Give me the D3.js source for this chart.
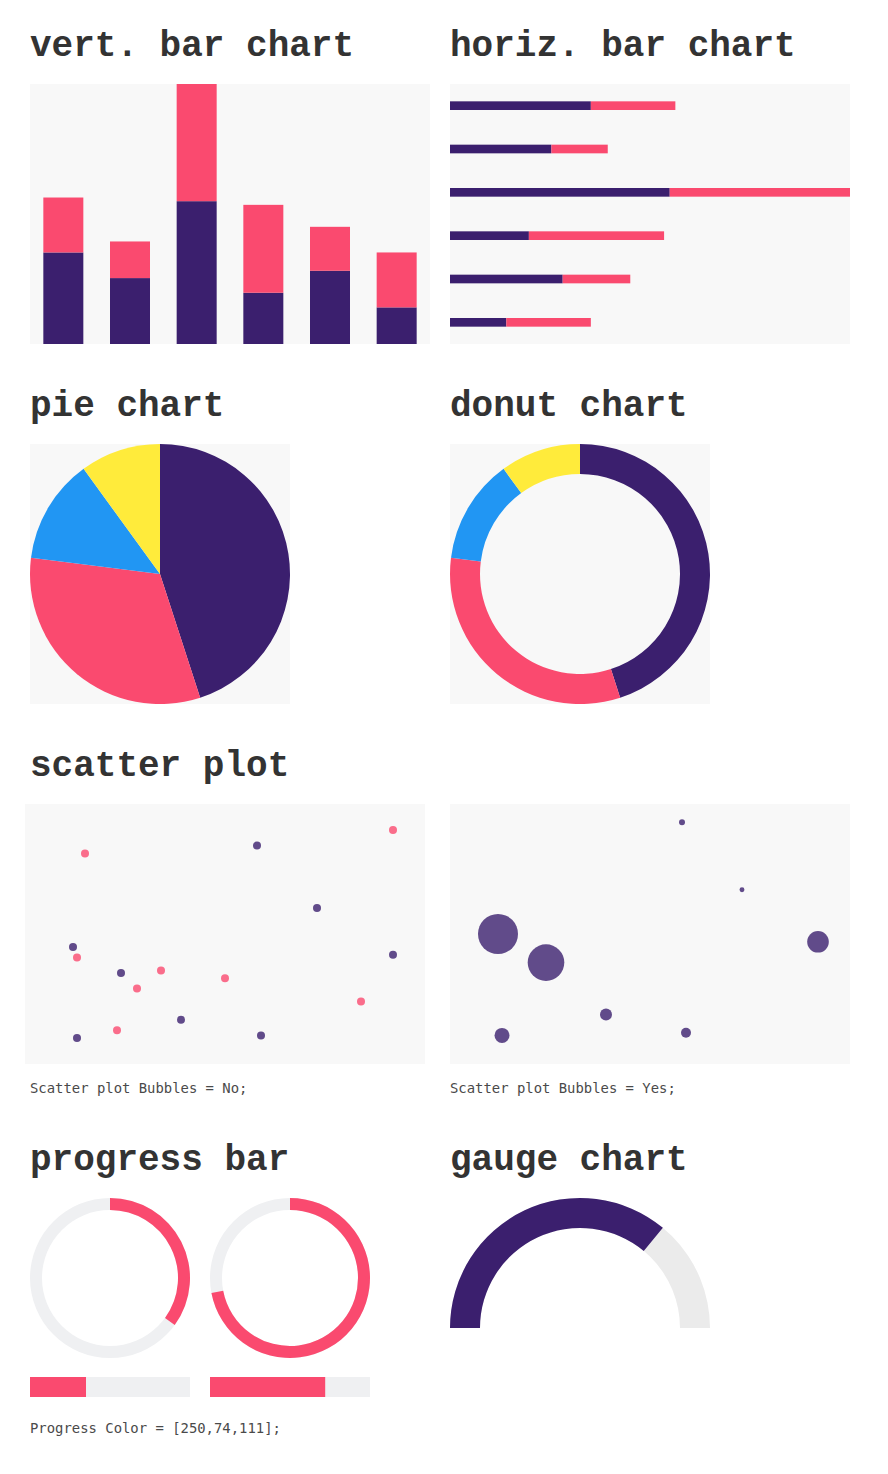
<!DOCTYPE html>
<html>
<head>
<meta charset="utf-8">
<script src="https://cdn.jsdelivr.net/npm/d3@7"></script>
<style>
  body { margin: 0; background: #fff; }
  svg { display: block; }
  .title { font-family: 'Liberation Mono', 'DejaVu Sans Mono', monospace; font-weight: bold; font-size: 36px; fill: #333; }
  .caption { font-family: 'DejaVu Sans Mono', 'Liberation Mono', monospace; font-size: 13.9px; fill: #4a4a4a; }
</style>
</head>
<body>
<svg id="charts" width="888" height="1474"></svg>
<script>
const barCategories = ['a', 'b', 'c', 'd', 'e', 'f'];
const barSeriesA = [25, 18, 39, 14, 20, 10];
const barSeriesB = [15, 10, 32, 24, 12, 15];

const pieLabels = ['a', 'b', 'c', 'd'];
const pieValues = [45, 32, 13, 10];

const scatterPurpleX = [58, 73, 12, 92, 24, 39, 13, 59];
const scatterPurpleY = [84, 60, 45, 42, 35, 17, 10, 11];
const scatterPinkX = [15, 92, 13, 34, 28, 50, 84, 23];
const scatterPinkY = [81, 90, 41, 36, 29, 33, 24, 13];

const bubbleX = [58, 73, 12, 24, 92, 39, 13, 59];
const bubbleY = [93, 67, 50, 39, 47, 19, 11, 12];
const bubbleSize = [9, 6, 400, 335, 117, 36, 56, 25];

const progressValues = [35, 72];
const gaugeValue = 72;

const titles = ['vert. bar chart', 'horiz. bar chart', 'pie chart', 'donut chart', 'scatter plot', 'progress bar', 'gauge chart'];

const purple = '#3b1f6e';
const pink = '#fa4a6f';
const pieColours = [purple, pink, '#2196f3', '#ffeb3b'];
const panelBg = '#f8f8f8';
const trackColour = '#eff0f2';

const svg = d3.select('#charts');

function addTitle(text, x, y) {
  svg.append('text').attr('class', 'title').attr('x', x).attr('y', y).text(text);
}

function addPanel(x, y, w, h) {
  svg.append('rect').attr('x', x).attr('y', y).attr('width', w).attr('height', h).attr('fill', panelBg);
}

addTitle(titles[0], 30, 56);
addTitle(titles[1], 450, 56);
addTitle(titles[2], 30, 416);
addTitle(titles[3], 450, 416);
addTitle(titles[4], 30, 776);
addTitle(titles[5], 30, 1170);
addTitle(titles[6], 450, 1170);

// stacked data shared by both bar charts
const barRows = barCategories.map((c, i) => ({ cat: c, a: barSeriesA[i], b: barSeriesB[i] }));
const stacked = d3.stack().keys(['a', 'b'])(barRows);
const barMax = d3.max(barRows, (d) => d.a + d.b);
const barColour = d3.scaleOrdinal().domain(['a', 'b']).range([purple, pink]);

function drawVerticalBars() {
  addPanel(30, 84, 400, 260);
  const x = d3.scaleBand().domain(barCategories).range([30, 430]).paddingInner(0.4).paddingOuter(0.2);
  const y = d3.scaleLinear().domain([0, barMax]).range([344, 84]);
  svg.append('g')
    .selectAll('g')
    .data(stacked)
    .join('g')
    .attr('fill', (s) => barColour(s.key))
    .selectAll('rect')
    .data((s) => s)
    .join('rect')
    .attr('x', (d) => x(d.data.cat))
    .attr('width', x.bandwidth())
    .attr('y', (d) => y(d[1]))
    .attr('height', (d) => y(d[0]) - y(d[1]));
}

function drawHorizontalBars() {
  addPanel(450, 84, 400, 260);
  const y = d3.scaleBand().domain(barCategories).range([84, 344]).paddingInner(0.8).paddingOuter(0.4);
  const x = d3.scaleLinear().domain([0, barMax]).range([450, 850]);
  svg.append('g')
    .selectAll('g')
    .data(stacked)
    .join('g')
    .attr('fill', (s) => barColour(s.key))
    .selectAll('rect')
    .data((s) => s)
    .join('rect')
    .attr('y', (d) => y(d.data.cat))
    .attr('height', y.bandwidth())
    .attr('x', (d) => x(d[0]))
    .attr('width', (d) => x(d[1]) - x(d[0]));
}

function drawPie(cx, cy, inner) {
  addPanel(cx - 130, cy - 130, 260, 260);
  const pie = d3.pie().sort(null)(pieValues);
  const arc = d3.arc().innerRadius(inner).outerRadius(130);
  svg.append('g')
    .attr('transform', `translate(${cx},${cy})`)
    .selectAll('path')
    .data(pie)
    .join('path')
    .attr('d', arc)
    .attr('fill', (d, i) => pieColours[i]);
}

function drawScatter() {
  addPanel(25, 804, 400, 260);
  const x = d3.scaleLinear().domain([0, 100]).range([25, 425]);
  const y = d3.scaleLinear().domain([0, 100]).range([1064, 804]);
  const g = svg.append('g');
  g.selectAll('circle.pink')
    .data(scatterPinkX)
    .join('circle')
    .attr('class', 'pink')
    .attr('cx', (d) => x(d))
    .attr('cy', (d, i) => y(scatterPinkY[i]))
    .attr('r', 4)
    .attr('fill', pink)
    .attr('fill-opacity', 0.8);
  g.selectAll('circle.purple')
    .data(scatterPurpleX)
    .join('circle')
    .attr('class', 'purple')
    .attr('cx', (d) => x(d))
    .attr('cy', (d, i) => y(scatterPurpleY[i]))
    .attr('r', 4)
    .attr('fill', purple)
    .attr('fill-opacity', 0.8);
  svg.append('text').attr('class', 'caption').attr('x', 30).attr('y', 1093).text('Scatter plot Bubbles = No;');
}

function drawBubbles() {
  addPanel(450, 804, 400, 260);
  const x = d3.scaleLinear().domain([0, 100]).range([450, 850]);
  const y = d3.scaleLinear().domain([0, 100]).range([1064, 804]);
  const r = d3.scaleSqrt().domain([0, d3.max(bubbleSize)]).range([0, 20]);
  svg.append('g')
    .selectAll('circle')
    .data(bubbleX)
    .join('circle')
    .attr('cx', (d) => x(d))
    .attr('cy', (d, i) => y(bubbleY[i]))
    .attr('r', (d, i) => r(bubbleSize[i]))
    .attr('fill', purple)
    .attr('fill-opacity', 0.8);
  svg.append('text').attr('class', 'caption').attr('x', 450).attr('y', 1093).text('Scatter plot Bubbles = Yes;');
}

function drawProgress() {
  const angle = d3.scaleLinear().domain([0, 100]).range([0, 2 * Math.PI]);
  const ring = d3.arc().innerRadius(68).outerRadius(80).startAngle(0);
  progressValues.forEach((value, i) => {
    const cx = 110 + i * 180;
    const g = svg.append('g').attr('transform', `translate(${cx},1278)`);
    g.append('path').attr('d', ring({ endAngle: angle(100) })).attr('fill', trackColour);
    g.append('path').attr('d', ring({ endAngle: angle(value) })).attr('fill', pink);

    const left = 30 + i * 180;
    const x = d3.scaleLinear().domain([0, 100]).range([left, left + 160]);
    svg.append('rect').attr('x', x(0)).attr('y', 1377).attr('width', x(100) - x(0)).attr('height', 20).attr('fill', trackColour);
    svg.append('rect').attr('x', x(0)).attr('y', 1377).attr('width', x(value) - x(0)).attr('height', 20).attr('fill', pink);
  });
  svg.append('text').attr('class', 'caption').attr('x', 30).attr('y', 1433).text('Progress Color = [250,74,111];');
}

function drawGauge() {
  const angle = d3.scaleLinear().domain([0, 100]).range([-Math.PI / 2, Math.PI / 2]);
  const arc = d3.arc().innerRadius(100).outerRadius(130).startAngle(angle(0));
  const g = svg.append('g').attr('transform', 'translate(580,1328)');
  g.append('path').attr('d', arc({ endAngle: angle(100) })).attr('fill', '#ebebeb');
  g.append('path').attr('d', arc({ endAngle: angle(gaugeValue) })).attr('fill', purple);
}

drawVerticalBars();
drawHorizontalBars();
drawPie(160, 574, 0);
drawPie(580, 574, 100);
drawScatter();
drawBubbles();
drawProgress();
drawGauge();
</script>
</body>
</html>
